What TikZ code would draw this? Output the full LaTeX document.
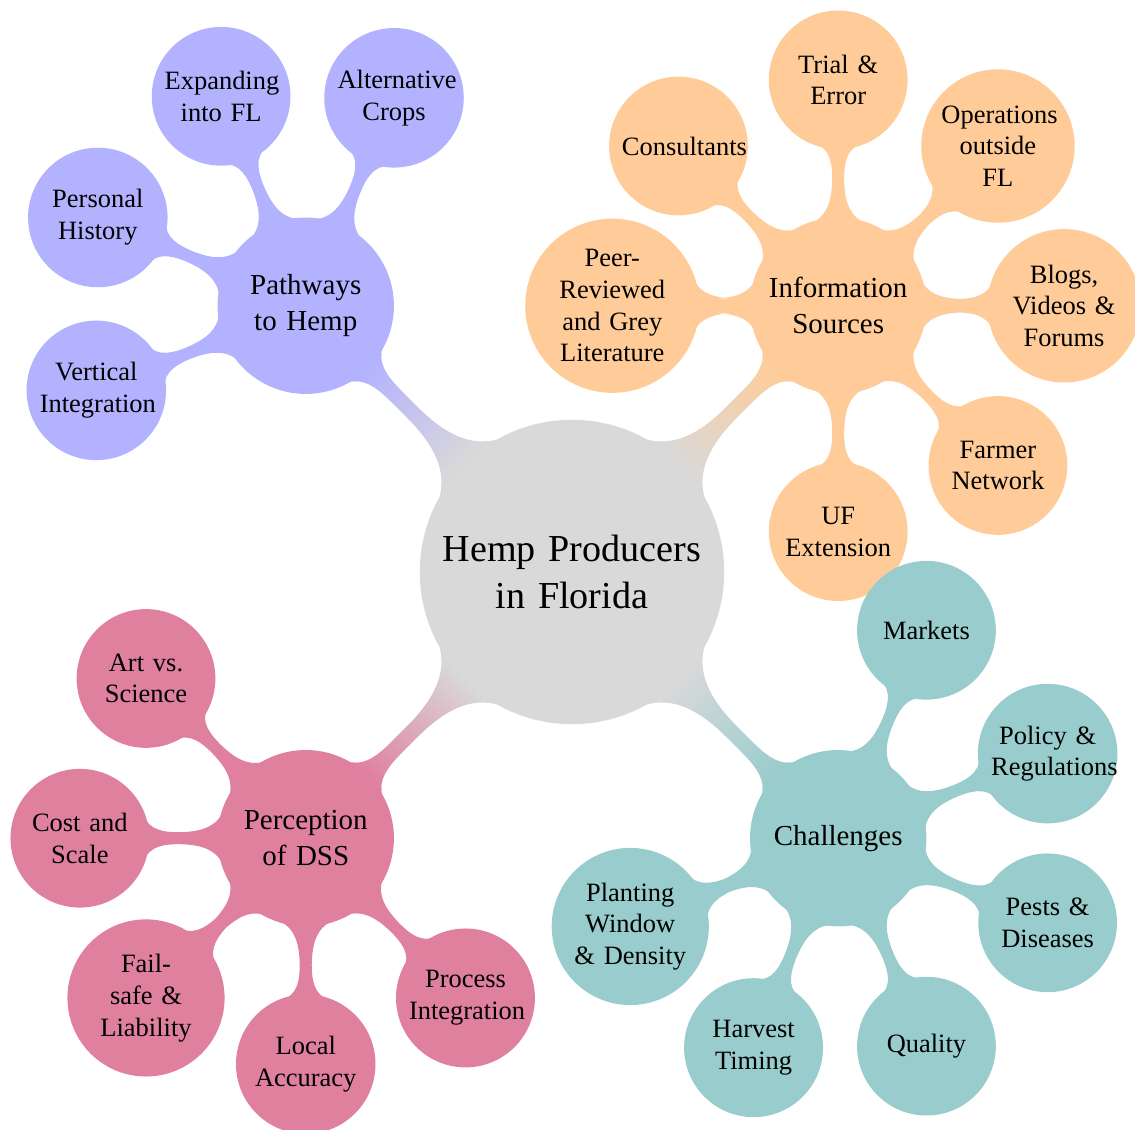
\documentclass[tikz,border=0pt]{standalone}
\usepackage{fontspec}
\setmainfont{Liberation Serif}
\usetikzlibrary{mindmap}
\hyphenpenalty=10000
\begin{document}
\begin{tikzpicture}[
  mindmap, text=black,
  rootbox/.style={concept, minimum size=4cm, text width=3.5cm, align=center,
    font=\fontsize{14.4}{18}\selectfont},
  level 1 concept/.append style={level distance=5cm, minimum size=2.3cm,
    text width=2cm, align=center, font=\fontsize{10.95}{13.6}\selectfont},
  level 2 concept/.append style={level distance=3cm, minimum size=1.8cm,
    text width=1.5cm, inner sep=1.5pt, align=center,
    font=\fontsize{10}{12}\selectfont},
]
\useasboundingbox (-7.596,-7.410) rectangle (7.477,7.596);
\path[concept color=gray!30] node[rootbox] (root) {Hemp Producers\\in Florida}
  % pathways branch
  child[grow=135, concept color=blue!30] {
    node[concept] (path) {Pathways\\to Hemp}
      child[grow=67.5]  { node[concept] (alt)  {Alternative\\Crops} }
      child[grow=112.5] { node[concept] (exp)  {Expanding\\into FL} }
      child[grow=157.5] { node[concept] (pers) {Personal\\History} }
      child[grow=202.5] { node[concept] (vert) {Vertical\\Integration} }
  }
  % information branch
  child[grow=45, concept color=orange!40] {
    node[concept] (info) {Information\\Sources}
      child[grow=90]  { node[concept] (trial) {Trial \&\\Error} }
      child[grow=135] { node[concept] (cons)  {Consultants} }
      child[grow=180] { node[concept] (peer)  {Peer-\\Reviewed\\and Grey\\Literature} }
      child[grow=270] { node[concept] (ufe)   {UF\\Extension} }
      child[grow=315] { node[concept] (farm)  {Farmer\\Network} }
      child[grow=0]   { node[concept] (blog)  {Blogs,\\Videos \&\\Forums} }
      child[grow=45]  { node[concept] (ops)   {Operations\\outside\\FL} }
  }
  % challenges branch
  child[grow=-45, concept color=teal!40] {
    node[concept] (chal) {Challenges}
      child[grow=67.5]   { node[concept] (mark)  {Markets} }
      child[grow=22.5]   { node[concept] (pol)   {Policy \&\\Regulations} }
      child[grow=-22.5]  { node[concept] (pest)  {Pests \&\\Diseases} }
      child[grow=-67.5]  { node[concept] (qual)  {Quality} }
      child[grow=-112.5] { node[concept] (harv)  {Harvest\\Timing} }
      child[grow=-157.5] { node[concept] (plant) {Planting\\Window\\\& Density} }
  }
  % perception branch
  child[grow=-135, concept color=purple!50] {
    node[concept] (dss) {Perception\\of DSS}
      child[grow=135] { node[concept] (art)  {Art vs.\\Science} }
      child[grow=180] { node[concept] (cost) {Cost and\\Scale} }
      child[grow=225] { node[concept] (fail) {Fail-\\safe \&\\Liability} }
      child[grow=270] { node[concept] (loc)  {Local\\Accuracy} }
      child[grow=315] { node[concept] (proc) {Process\\Integration} }
  };
\end{tikzpicture}
\end{document}
